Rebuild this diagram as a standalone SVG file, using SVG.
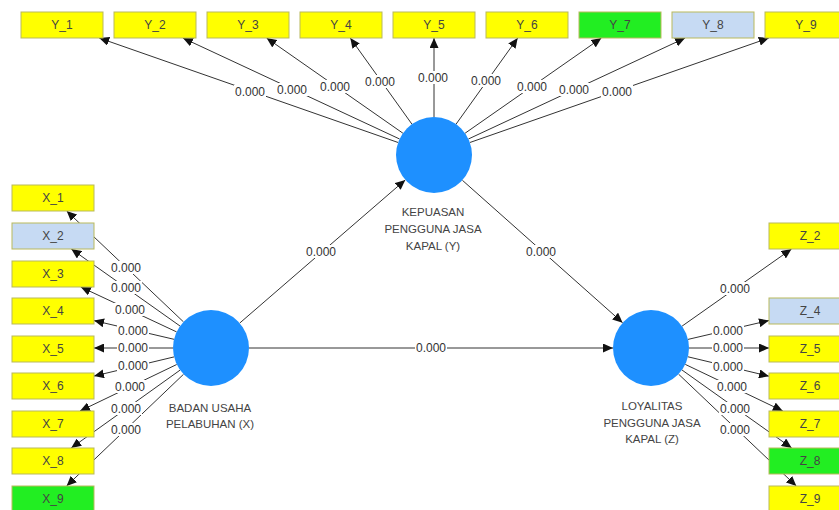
<svg xmlns="http://www.w3.org/2000/svg" width="839" height="510" viewBox="0 0 839 510">
<style>
.ln{stroke:#333;stroke-width:1;fill:none;marker-end:url(#ah)}
.lb{fill:#fff}
.lt{font-family:"Liberation Sans",Arial,sans-serif;font-size:12px;fill:#333;text-anchor:middle}
.box{stroke:#b9b95c;stroke-width:1}
.yel{fill:#ffff00}
.grn{fill:#22ee22}
.blu{fill:#c6daf3}
.bt{font-family:"Liberation Sans",Arial,sans-serif;font-size:12px;fill:#444;text-anchor:middle}
.lv{fill:#1e90ff}
.ct{font-family:"Liberation Sans",Arial,sans-serif;font-size:11.5px;fill:#444;text-anchor:middle}
</style>
<defs>
<marker id="ah" markerUnits="userSpaceOnUse" markerWidth="11" markerHeight="9" refX="10" refY="4.5" orient="auto">
<path d="M0,0 L10,4.5 L0,9 z" fill="#111"/>
</marker>
</defs>
<rect width="839" height="510" fill="#fff"/>
<g id="connectors">
<!-- Y outer -->
<line class="ln" x1="398.1" y1="142.5" x2="99.2" y2="38"/>
<line class="ln" x1="399.6" y1="139" x2="182.9" y2="38"/>
<line class="ln" x1="402.9" y1="133.2" x2="266.6" y2="38"/>
<line class="ln" x1="411.9" y1="124.1" x2="350.3" y2="38"/>
<line class="ln" x1="434" y1="117" x2="434" y2="38"/>
<line class="ln" x1="456.1" y1="124.1" x2="517.7" y2="38"/>
<line class="ln" x1="465.1" y1="133.2" x2="601.4" y2="38"/>
<line class="ln" x1="468.4" y1="139" x2="685.1" y2="38"/>
<line class="ln" x1="469.9" y1="142.5" x2="768.8" y2="38"/>
<!-- X outer -->
<line class="ln" x1="183.4" y1="321.8" x2="66.7" y2="211"/>
<line class="ln" x1="180" y1="326" x2="71.3" y2="249"/>
<line class="ln" x1="176.6" y1="331.9" x2="80.8" y2="287"/>
<line class="ln" x1="174" y1="339.3" x2="94" y2="320.6"/>
<line class="ln" x1="173" y1="348" x2="94" y2="348"/>
<line class="ln" x1="174.1" y1="356.9" x2="94" y2="376.1"/>
<line class="ln" x1="176.7" y1="364.5" x2="80" y2="411"/>
<line class="ln" x1="180.1" y1="370.1" x2="71.2" y2="448"/>
<line class="ln" x1="183.5" y1="374.3" x2="66.6" y2="486"/>
<!-- Z outer -->
<line class="ln" x1="682.1" y1="326.1" x2="791.5" y2="249"/>
<line class="ln" x1="688" y1="339.4" x2="769" y2="320.5"/>
<line class="ln" x1="689" y1="348" x2="769" y2="348"/>
<line class="ln" x1="688" y1="356.8" x2="769" y2="376.2"/>
<line class="ln" x1="685.3" y1="364.4" x2="782.8" y2="411"/>
<line class="ln" x1="682" y1="370" x2="791.7" y2="448"/>
<line class="ln" x1="678.6" y1="374.2" x2="796.3" y2="486"/>
<!-- structural -->
<line class="ln" x1="239.7" y1="323.1" x2="405.3" y2="179.9"/>
<line class="ln" x1="462.4" y1="180.3" x2="622.6" y2="322.7"/>
<line class="ln" x1="249" y1="348" x2="613" y2="348"/>
<!-- labels -->
<g id="labels">
<rect class="lb" x="234" y="85" width="32" height="13"/><text class="lt" x="250" y="96">0.000</text>
<rect class="lb" x="276" y="83" width="32" height="13"/><text class="lt" x="292" y="94">0.000</text>
<rect class="lb" x="319" y="80" width="32" height="13"/><text class="lt" x="335" y="91">0.000</text>
<rect class="lb" x="364" y="75" width="32" height="13"/><text class="lt" x="380" y="86">0.000</text>
<rect class="lb" x="417" y="71" width="32" height="13"/><text class="lt" x="433" y="82">0.000</text>
<rect class="lb" x="470" y="74" width="32" height="13"/><text class="lt" x="486" y="85">0.000</text>
<rect class="lb" x="516" y="80" width="32" height="13"/><text class="lt" x="532" y="91">0.000</text>
<rect class="lb" x="558" y="83" width="32" height="13"/><text class="lt" x="574" y="94">0.000</text>
<rect class="lb" x="601" y="85" width="32" height="13"/><text class="lt" x="617" y="96">0.000</text>

<rect class="lb" x="110" y="261" width="32" height="13"/><text class="lt" x="126" y="272">0.000</text>
<rect class="lb" x="110" y="281" width="32" height="13"/><text class="lt" x="126" y="292">0.000</text>
<rect class="lb" x="114" y="303" width="32" height="13"/><text class="lt" x="130" y="314">0.000</text>
<rect class="lb" x="117" y="324" width="32" height="13"/><text class="lt" x="133" y="335">0.000</text>
<rect class="lb" x="117" y="341" width="32" height="13"/><text class="lt" x="133" y="352">0.000</text>
<rect class="lb" x="117" y="359" width="32" height="13"/><text class="lt" x="133" y="370">0.000</text>
<rect class="lb" x="114" y="380" width="32" height="13"/><text class="lt" x="130" y="391">0.000</text>
<rect class="lb" x="110" y="402" width="32" height="13"/><text class="lt" x="126" y="413">0.000</text>
<rect class="lb" x="110" y="423" width="32" height="13"/><text class="lt" x="126" y="434">0.000</text>

<rect class="lb" x="719" y="282" width="32" height="13"/><text class="lt" x="735" y="293">0.000</text>
<rect class="lb" x="712" y="324" width="32" height="13"/><text class="lt" x="728" y="335">0.000</text>
<rect class="lb" x="712" y="341" width="32" height="13"/><text class="lt" x="728" y="352">0.000</text>
<rect class="lb" x="712" y="360" width="32" height="13"/><text class="lt" x="728" y="371">0.000</text>
<rect class="lb" x="716" y="380" width="32" height="13"/><text class="lt" x="732" y="391">0.000</text>
<rect class="lb" x="719" y="402" width="32" height="13"/><text class="lt" x="735" y="413">0.000</text>
<rect class="lb" x="719" y="423" width="32" height="13"/><text class="lt" x="735" y="434">0.000</text>

<rect class="lb" x="305" y="245" width="32" height="13"/><text class="lt" x="321" y="256">0.000</text>
<rect class="lb" x="525" y="245" width="32" height="13"/><text class="lt" x="541" y="256">0.000</text>
<rect class="lb" x="415" y="341" width="32" height="13"/><text class="lt" x="431" y="352">0.000</text>
</g>
</g>
<!-- Y indicators -->
<g id="Y_1"><rect class="box yel" x="21" y="12" width="82" height="26"/><text class="bt" x="62" y="29">Y_1</text></g>
<g id="Y_2"><rect class="box yel" x="114" y="12" width="82" height="26"/><text class="bt" x="155" y="29">Y_2</text></g>
<g id="Y_3"><rect class="box yel" x="207" y="12" width="82" height="26"/><text class="bt" x="248" y="29">Y_3</text></g>
<g id="Y_4"><rect class="box yel" x="300" y="12" width="82" height="26"/><text class="bt" x="341" y="29">Y_4</text></g>
<g id="Y_5"><rect class="box yel" x="393" y="12" width="82" height="26"/><text class="bt" x="434" y="29">Y_5</text></g>
<g id="Y_6"><rect class="box yel" x="486" y="12" width="82" height="26"/><text class="bt" x="527" y="29">Y_6</text></g>
<g id="Y_7"><rect class="box grn" x="579" y="12" width="82" height="26"/><text class="bt" x="620" y="29">Y_7</text></g>
<g id="Y_8"><rect class="box blu" x="672" y="12" width="82" height="26"/><text class="bt" x="713" y="29">Y_8</text></g>
<g id="Y_9"><rect class="box yel" x="765" y="12" width="82" height="26"/><text class="bt" x="806" y="29">Y_9</text></g>
<!-- X indicators -->
<g id="X_1"><rect class="box yel" x="12" y="185" width="82" height="26"/><text class="bt" x="53" y="202">X_1</text></g>
<g id="X_2"><rect class="box blu" x="12" y="223" width="82" height="26"/><text class="bt" x="53" y="240">X_2</text></g>
<g id="X_3"><rect class="box yel" x="12" y="261" width="82" height="26"/><text class="bt" x="53" y="278">X_3</text></g>
<g id="X_4"><rect class="box yel" x="12" y="298" width="82" height="26"/><text class="bt" x="53" y="315">X_4</text></g>
<g id="X_5"><rect class="box yel" x="12" y="336" width="82" height="26"/><text class="bt" x="53" y="353">X_5</text></g>
<g id="X_6"><rect class="box yel" x="12" y="373" width="82" height="26"/><text class="bt" x="53" y="390">X_6</text></g>
<g id="X_7"><rect class="box yel" x="12" y="411" width="82" height="26"/><text class="bt" x="53" y="428">X_7</text></g>
<g id="X_8"><rect class="box yel" x="12" y="448" width="82" height="26"/><text class="bt" x="53" y="465">X_8</text></g>
<g id="X_9"><rect class="box grn" x="12" y="486" width="82" height="26"/><text class="bt" x="53" y="503">X_9</text></g>
<!-- Z indicators -->
<g id="Z_2"><rect class="box yel" x="769" y="223" width="82" height="26"/><text class="bt" x="810" y="240">Z_2</text></g>
<g id="Z_4"><rect class="box blu" x="769" y="298" width="82" height="26"/><text class="bt" x="810" y="315">Z_4</text></g>
<g id="Z_5"><rect class="box yel" x="769" y="336" width="82" height="26"/><text class="bt" x="810" y="353">Z_5</text></g>
<g id="Z_6"><rect class="box yel" x="769" y="373" width="82" height="26"/><text class="bt" x="810" y="390">Z_6</text></g>
<g id="Z_7"><rect class="box yel" x="769" y="411" width="82" height="26"/><text class="bt" x="810" y="428">Z_7</text></g>
<g id="Z_8"><rect class="box grn" x="769" y="448" width="82" height="26"/><text class="bt" x="810" y="465">Z_8</text></g>
<g id="Z_9"><rect class="box yel" x="769" y="486" width="82" height="26"/><text class="bt" x="810" y="503">Z_9</text></g>
<!-- latent variables -->
<g id="KEPUASAN"><circle class="lv" cx="434" cy="155" r="38"/>
<text class="ct" x="433" y="216">KEPUASAN</text><text class="ct" x="433" y="233">PENGGUNA JASA</text><text class="ct" x="433" y="250">KAPAL (Y)</text></g>
<g id="BADAN_USAHA"><circle class="lv" cx="211" cy="348" r="38"/>
<text class="ct" x="210" y="412">BADAN USAHA</text><text class="ct" x="210" y="428">PELABUHAN (X)</text></g>
<g id="LOYALITAS"><circle class="lv" cx="651" cy="348" r="38"/>
<text class="ct" x="652" y="410">LOYALITAS</text><text class="ct" x="652" y="427">PENGGUNA JASA</text><text class="ct" x="652" y="443">KAPAL (Z)</text></g>
</svg>
